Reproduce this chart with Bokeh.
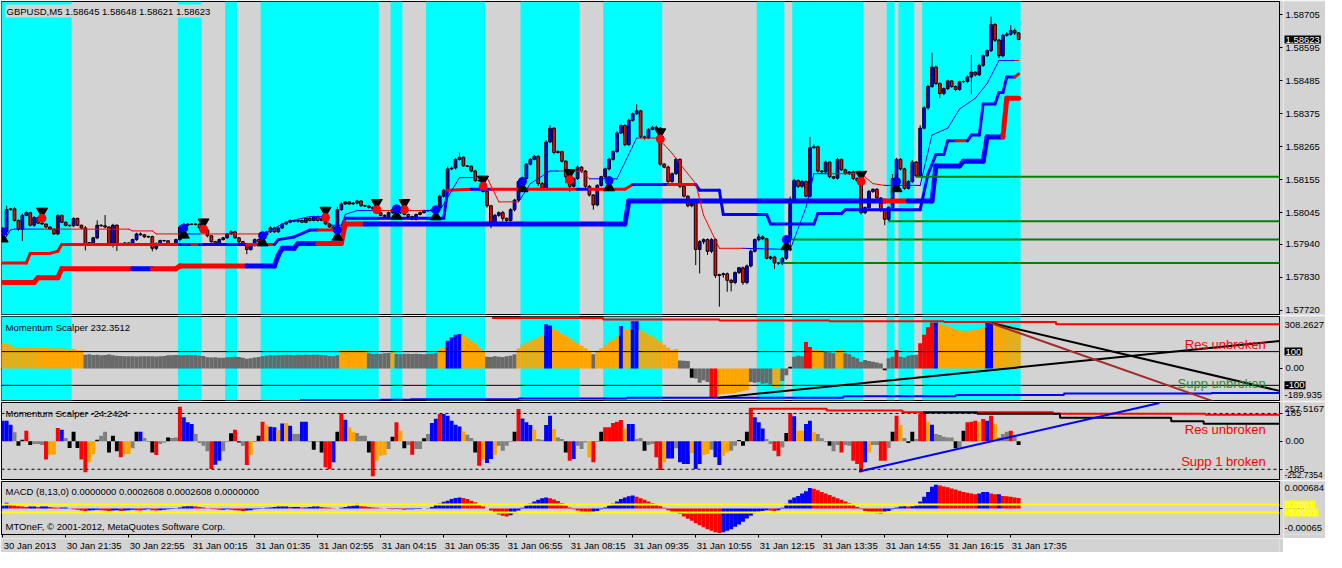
from bokeh.plotting import figure
from bokeh.layouts import column, row
from bokeh.models import Range1d, FixedTicker, BoxAnnotation, Label, CustomJSTickFormatter
from bokeh.embed import file_html
from bokeh.resources import INLINE

FONT = "Liberation Sans"
FS = "9.5px"
BG = "#d3d3d3"
CYAN = "#00ffff"
BLUE = "#0000ff"
RED = "#ff0000"

# ---------------- data ----------------
xtick_bars = [0, 16, 32, 48, 64, 80, 96, 112, 128, 144, 160, 176, 192, 208, 224, 240, 256]
xtick_labels = ["30 Jan 2013", "30 Jan 21:35", "30 Jan 22:55", "31 Jan 00:15", "31 Jan 01:35",
                "31 Jan 02:55", "31 Jan 04:15", "31 Jan 05:35", "31 Jan 06:55", "31 Jan 08:15",
                "31 Jan 09:35", "31 Jan 10:55", "31 Jan 12:15", "31 Jan 13:35", "31 Jan 14:55",
                "31 Jan 16:15", "31 Jan 17:35"]
price_ticks = [1.58705, 1.58595, 1.58485, 1.58375, 1.58265, 1.58155, 1.58045, 1.57940, 1.57830, 1.57720]

first_open = 1.57990
close = [
    1.57981, 1.58055, 1.58058, 1.58019, 1.57990, 1.58036, 1.58045, 1.58003, 1.58029, 1.58010,
    1.58007, 1.57997, 1.57990, 1.57974, 1.58036, 1.58013, 1.58003, 1.58001, 1.58026, 1.58003,
    1.57994, 1.57939, 1.57945, 1.57961, 1.58003, 1.58001, 1.57997, 1.57939, 1.58003, 1.57939,
    1.57942, 1.57944, 1.57942, 1.57955, 1.57974, 1.57971, 1.57964, 1.57965, 1.57926, 1.57942,
    1.57952, 1.57951, 1.57942, 1.57939, 1.57955, 1.57997, 1.58003, 1.58007, 1.58006, 1.58007,
    1.57994, 1.57987, 1.57968, 1.57948, 1.57942, 1.57955, 1.57961, 1.57974, 1.57981, 1.57961,
    1.57948, 1.57942, 1.57922, 1.57935, 1.57955, 1.57948, 1.57971, 1.57981, 1.57994, 1.57981,
    1.57994, 1.58007, 1.58013, 1.58019, 1.58016, 1.58019, 1.58013, 1.58026, 1.58019, 1.58032,
    1.58019, 1.58026, 1.58007, 1.57997, 1.57987, 1.58055, 1.58074, 1.58081, 1.58074, 1.58077,
    1.58084, 1.58068, 1.58067, 1.58062, 1.58058, 1.58045, 1.58036, 1.58032, 1.58045, 1.58055,
    1.58062, 1.58045, 1.58039, 1.58032, 1.58023, 1.58039, 1.58045, 1.58052, 1.58051, 1.58055,
    1.58062, 1.58100, 1.58120, 1.58191, 1.58194, 1.58223, 1.58230, 1.58201, 1.58200, 1.58184,
    1.58152, 1.58153, 1.58116, 1.58068, 1.58013, 1.58036, 1.58045, 1.58026, 1.58019, 1.58055,
    1.58087, 1.58149, 1.58159, 1.58207, 1.58223, 1.58233, 1.58142, 1.58126, 1.58281, 1.58327,
    1.58246, 1.58249, 1.58217, 1.58165, 1.58133, 1.58159, 1.58197, 1.58184, 1.58133, 1.58104,
    1.58071, 1.58136, 1.58165, 1.58191, 1.58223, 1.58249, 1.58311, 1.58336, 1.58272, 1.58353,
    1.58375, 1.58385, 1.58298, 1.58295, 1.58323, 1.58330, 1.58327, 1.58207, 1.58197, 1.58149,
    1.58175, 1.58223, 1.58133, 1.58100, 1.58068, 1.58084, 1.57922, 1.57948, 1.57955, 1.57916,
    1.57955, 1.57835, 1.57838, 1.57841, 1.57819, 1.57812, 1.57845, 1.57861, 1.57812, 1.57867,
    1.57916, 1.57955, 1.57964, 1.57958, 1.57893, 1.57897, 1.57877, 1.57876, 1.57893, 1.57958,
    1.58087, 1.58152, 1.58133, 1.58149, 1.58100, 1.58262, 1.58265, 1.58184, 1.58181, 1.58214,
    1.58165, 1.58160, 1.58223, 1.58188, 1.58175, 1.58181, 1.58159, 1.58152, 1.58045, 1.58062,
    1.58116, 1.58123, 1.58094, 1.58055, 1.58023, 1.58062, 1.58159, 1.58223, 1.58191, 1.58126,
    1.58149, 1.58214, 1.58168, 1.58327, 1.58395, 1.58466, 1.58531, 1.58476, 1.58443, 1.58459,
    1.58485, 1.58466, 1.58456, 1.58482, 1.58483, 1.58498, 1.58514, 1.58505, 1.58537, 1.58569,
    1.58586, 1.58673, 1.58621, 1.58569, 1.58637, 1.58641, 1.58653, 1.58645, 1.58623]

wick_up_pts = [
    5, 13, 3, 5, 3, 6, 4, 3, 4, 2, 3, 2, 3, 2, 4, 3, 2, 2, 3, 2,
    2, 6, 2, 3, 16, 3, 36, 3, 5, 3, 2, 2, 2, 3, 4, 5, 3, 3, 3, 4,
    3, 2, 2, 2, 3, 6, 8, 3, 3, 4, 3, 5, 3, 2, 3, 4, 3, 3, 5, 3,
    2, 3, 2, 3, 4, 3, 5, 3, 6, 4, 3, 4, 3, 3, 2, 4, 3, 3, 4, 3,
    3, 4, 5, 3, 3, 10, 6, 3, 3, 3, 4, 3, 3, 3, 4, 5, 3, 3, 4, 3,
    4, 3, 5, 3, 3, 3, 4, 3, 3, 4, 3, 5, 5, 8, 6, 5, 16, 3, 3, 3,
    4, 3, 5, 3, 3, 5, 4, 6, 3, 5, 4, 5, 6, 3, 4, 5, 4, 5, 6, 10,
    3, 4, 3, 3, 5, 4, 6, 3, 3, 4, 3, 4, 3, 4, 5, 4, 6, 3, 4, 5,
    4, 22, 3, 4, 4, 5, 5, 4, 3, 5, 4, 5, 3, 4, 3, 3, 4, 5, 4, 4,
    5, 4, 3, 4, 4, 5, 4, 3, 4, 5, 6, 4, 10, 5, 3, 4, 4, 3, 4, 6,
    12, 6, 4, 5, 4, 36, 8, 4, 3, 5, 4, 3, 5, 3, 4, 3, 5, 4, 4, 3,
    5, 3, 4, 3, 3, 4, 15, 5, 4, 4, 4, 6, 3, 10, 5, 6, 48, 5, 4, 4,
    4, 3, 4, 4, 4, 6, 58, 4, 5, 4, 4, 26, 5, 4, 5, 6, 18, 7, 3]
wick_dn_pts = [
    10, 16, 3, 4, 5, 40, 3, 4, 5, 3, 3, 4, 3, 3, 5, 3, 4, 3, 4, 3,
    3, 20, 5, 4, 5, 3, 4, 5, 10, 22, 3, 3, 3, 4, 4, 3, 3, 3, 10, 6,
    3, 3, 4, 3, 3, 6, 5, 3, 3, 4, 3, 4, 5, 3, 4, 3, 3, 3, 4, 3,
    4, 5, 16, 4, 3, 4, 4, 3, 4, 3, 3, 4, 3, 3, 3, 4, 3, 3, 4, 3,
    4, 3, 4, 3, 5, 26, 4, 3, 3, 3, 4, 3, 3, 3, 4, 4, 3, 3, 4, 3,
    3, 4, 3, 4, 3, 4, 3, 3, 3, 4, 4, 5, 5, 6, 4, 5, 4, 3, 3, 4,
    5, 4, 4, 6, 20, 8, 5, 10, 6, 5, 6, 4, 5, 4, 4, 3, 8, 6, 4, 4,
    6, 4, 5, 22, 18, 4, 5, 6, 10, 5, 16, 5, 4, 6, 5, 4, 4, 3, 5, 4,
    4, 3, 5, 6, 4, 3, 4, 5, 4, 8, 5, 4, 6, 4, 5, 5, 52, 80, 8, 12,
    6, 8, 104, 10, 38, 30, 6, 5, 8, 6, 5, 4, 6, 5, 4, 6, 20, 5, 6, 6,
    42, 5, 6, 5, 4, 5, 4, 6, 5, 4, 5, 4, 5, 4, 3, 4, 5, 4, 6, 5,
    4, 5, 6, 8, 20, 6, 5, 4, 5, 5, 4, 5, 6, 5, 4, 6, 4, 5, 16, 6,
    5, 4, 6, 5, 4, 6, 58, 5, 4, 5, 4, 5, 6, 8, 5, 4, 5, 7, 2]

cyan_start = [0, 45, 57, 66, 99, 108, 132, 153, 192, 201, 225, 228, 234]
cyan_end = [17, 50, 59, 95, 101, 122, 146, 167, 198, 218, 226, 231, 258]

# indicator lines on the price pane (vertex bar, price, colour code of the segment starting there)
tl_x = [0, 2, 3, 10, 32, 33, 38, 39, 45, 50, 65, 66, 70, 72, 75, 78, 82, 83, 86, 87,
        90, 94, 107, 111, 116, 120, 123, 126, 131, 134, 139, 141, 147, 149, 156, 161, 166, 168, 170, 173,
        176, 178, 182, 188, 200, 204, 206, 210, 218, 221, 224, 233, 236, 240, 243, 247, 250, 253, 257, 258]
tl_p = [1.57948, 1.57987, 1.57990, 1.57990, 1.57990, 1.57984, 1.57984, 1.57974, 1.57974, 1.57974,
        1.57974, 1.57971, 1.58000, 1.58013, 1.58023, 1.58032, 1.58032, 1.58003, 1.58003, 1.58039,
        1.58052, 1.58052, 1.58052, 1.58052, 1.58162, 1.58162, 1.58162, 1.58081, 1.58081, 1.58142,
        1.58184, 1.58184, 1.58184, 1.58158, 1.58158, 1.58294, 1.58294, 1.58272, 1.58243, 1.58191,
        1.58142, 1.58036, 1.57926, 1.57926, 1.57922, 1.58062, 1.58175, 1.58175, 1.58175, 1.58142,
        1.58136, 1.58136, 1.58304, 1.58327, 1.58391, 1.58427, 1.58476, 1.58553, 1.58553, 1.58553]
tl_c = "bbbrrrrrbr" "rbbbbbrbbb" "brbbbrrrbb" "brrbbrrrrr" "rrrbbbbrrr" "bbbbbbbbrr"

ml_x = [0, 6, 7, 12, 14, 15, 45, 48, 50, 62, 69, 70, 74, 78, 80, 86, 87, 112, 113, 119,
        124, 146, 149, 158, 160, 169, 176, 177, 182, 183, 194, 195, 206, 207, 213, 214, 233, 235, 237, 239,
        240, 242, 245, 246, 248, 249, 252, 253, 254, 255, 257, 258]
ml_p = [1.57877, 1.57877, 1.57909, 1.57909, 1.57916, 1.57939, 1.57939, 1.57939, 1.57939, 1.57939,
        1.57939, 1.57955, 1.57964, 1.57987, 1.57987, 1.57987, 1.58026, 1.58026, 1.58120, 1.58123,
        1.58123, 1.58123, 1.58123, 1.58123, 1.58139, 1.58139, 1.58139, 1.58120, 1.58120, 1.58039,
        1.58039, 1.58007, 1.58007, 1.58042, 1.58042, 1.58055, 1.58055, 1.58175, 1.58239, 1.58239,
        1.58285, 1.58285, 1.58285, 1.58304, 1.58304, 1.58408, 1.58408, 1.58446, 1.58446, 1.58498,
        1.58498, 1.58508]
ml_c = "rrrrrrbrbr" "bbbbrrbbrb" "rbrrbrbbbb" "bbbbbbbbbb" "brbbbbbbbb" "rr"

tk_x = [0, 8, 9, 14, 15, 33, 38, 44, 45, 62, 69, 70, 71, 74, 75, 80, 86, 87, 92, 158,
        159, 224, 230, 236, 237, 243, 244, 249, 250, 254, 255, 258]
tk_p = [1.57812, 1.57812, 1.57828, 1.57828, 1.57858, 1.57858, 1.57858, 1.57858, 1.57867, 1.57867,
        1.57867, 1.57903, 1.57926, 1.57926, 1.57942, 1.57942, 1.57942, 1.58007, 1.58007, 1.58007,
        1.58084, 1.58084, 1.58084, 1.58084, 1.58201, 1.58201, 1.58217, 1.58217, 1.58298, 1.58298,
        1.58427, 1.58427]
tk_c = "rrrrrbrrrb" "bbbbbrrrbb" "brbbbbbbbr" "rr"

sr_p = [1.58165, 1.58016, 1.57955, 1.57877]
sr_from = [232, 225, 200, 198]

sell_x = [10, 51, 82, 95, 102, 122, 144, 167, 218]
sell_p = [1.58026, 1.57990, 1.58029, 1.58055, 1.58055, 1.58133, 1.58155, 1.58291, 1.58149]
buy_x = [0, 46, 66, 85, 100, 110, 132, 154, 199, 227]
buy_p = [1.57981, 1.57994, 1.57968, 1.57987, 1.58058, 1.58055, 1.58149, 1.58152, 1.57955, 1.58149]

# Momentum Scalper (upper)
ms1_vals = [
    146, 147, 140, 128, 127, 126, 125, 126, 124, 123, 122, 121, 120, 119, 118, 118, 117, 116, 115, 110,
    106, 82, 85, 80, 82, 78, 80, 83, 78, 76, 74, 73, 72, 72, 71, 72, 72, 73, 72, 71,
    72, 74, 78, 79, 80, 78, 79, 80, 78, 78, 76, 74, 66, 65, 67, 64, 63, 66, 68, 70,
    68, 64, 58, 60, 65, 68, 72, 76, 78, 77, 79, 80, 82, 80, 79, 81, 80, 82, 80, 81,
    82, 80, 78, 74, 72, 78, 108, 106, 107, 106, 108, 107, 105, 90, 86, 88, 87, 90, 92, 104,
    86, 85, 88, 87, 86, 88, 86, 85, 87, 88, 90, 118, 125, 165, 185, 200, 205, 195, 180, 165,
    145, 125, 105, 70, 68, 72, 70, 68, 72, 75, 85, 120, 140, 155, 165, 175, 185, 192, 262, 255,
    236, 225, 210, 195, 180, 165, 150, 135, 120, 105, 85, 105, 120, 140, 160, 175, 190, 252, 236, 230,
    280, 280, 226, 215, 200, 190, 175, 160, 140, 125, 110, 115, 48, 46, 45, -55, -60, -85, -70, -80,
    -172, -172, -155, -153, -150, -148, -145, -140, -135, -130, -80, -85, -80, -90, -88, -95, -115, -118, -75, -40,
    10, 70, 75, 72, 157, 128, 115, 110, 105, 100, 95, 90, 110, 108, 90, 85, 70, 60, 40, 50,
    45, 40, 35, 30, -10, 60, 70, 110, 70, 65, 75, 80, 82, 150, 200, 245, 272, 272, 265, 258,
    250, 240, 232, 226, 224, 224, 226, 230, 236, 240, 270, 272, 255, 250, 248, 245, 242, 240, 236]
ms1_color_runs = [("o", 21), ("g", 65), ("o", 7), ("g", 6), ("o", 1), ("g", 11), ("o", 2), ("b", 4),
                  ("o", 6), ("g", 8), ("o", 7), ("b", 2), ("o", 10), ("g", 1), ("o", 6), ("b", 1),
                  ("o", 2), ("b", 2), ("o", 10), ("g", 3), ("k", 1), ("g", 4), ("r", 2), ("o", 8),
                  ("g", 6), ("o", 2), ("g", 2), ("k", 1), ("g", 3), ("r", 2), ("o", 3), ("g", 3),
                  ("o", 2), ("g", 10), ("k", 1), ("g", 2), ("r", 1), ("g", 5), ("r", 4), ("b", 1),
                  ("o", 12), ("b", 2), ("o", 7)]
ms1_levels = [100, -100]
ms1_res_x = [124.25, 152.5, 152.5, 182, 182, 210, 210, 239, 239, 267.5, 267.5, 324.25]
ms1_res_v = [300, 300, 290, 290, 285, 285, 280, 280, 275, 275, 263, 263]
ms1_sup_x = [75.5, 96, 96, 103.5, 103.5, 131, 131, 158.5, 158.5, 213.5, 213.5, 242, 242, 269.5,
             269.5, 307, 307, 324.25]
ms1_sup_v = [-189, -189, -186, -186, -183, -183, -178, -178, -173, -173, -165, -165, -157, -157,
             -149, -149, -145, -145]
ms1_trend_up_x = [181.75, 324.25]
ms1_trend_up_v = [-173, 163]
ms1_trend_dn_x = [250.5, 324.25]
ms1_trend_dn_v = [273, -133]
ms1_trend_br_x = [250.5, 307.5]
ms1_trend_br_v = [273, -195]

# Momentum Scalper (lower)
ms2_vals = [
    137, 137, 110, 60, -29, 11, 71, -24, -18, -18, -24, -121, -88, -88, 88, 77, 22, -44, 64, -44,
    -121, -205, -139, -84, 11, 38, 64, -73, 38, -66, -106, -84, -84, -46, 64, 64, 22, -5, -73, -90,
    -18, -7, 26, 22, 26, 230, 159, 126, 115, 49, -11, -29, -66, -183, -155, -128, -66, -5, 53, 77,
    -7, -29, -157, -90, -5, 38, 130, 110, 97, 93, 75, 119, 121, 104, 49, 49, 130, 130, -5, -55,
    -5, -73, -172, -183, -139, 64, 188, 144, 93, 64, 55, 38, 38, -73, -232, -128, -95, -90, -51, 31,
    126, 71, -46, -24, -88, -51, -51, 20, 49, 121, 150, 181, 181, 170, 137, 110, 99, 66, 44, 22,
    -73, -161, -121, -144, -117, -90, -29, -62, -29, -5, 64, 214, 152, 126, 108, 77, 15, 11, 108, 170,
    82, 26, 15, -73, -128, -117, -29, -51, -7, -106, -139, -5, 64, 93, 93, 121, 130, 141, 86, 115,
    115, 15, 22, -62, -24, -18, -106, -190, -139, -113, -113, -46, -139, -150, -150, -77, -183, -150, -90, -84,
    -55, -106, -157, -95, -73, -62, -29, 9, -29, 64, 219, 159, 126, 86, 15, -18, -62, -99, -40, 55,
    188, 166, 71, 71, 115, 137, 60, 49, 20, -5, -29, -66, -24, -73, -24, -29, -128, -150, -205, -139,
    -73, -24, -24, -128, -128, -44, 64, 170, 108, 22, -11, 64, 15, 181, 192, 130, 110, 49, 42, 31,
    26, 26, -46, -40, 71, 126, 130, 137, 130, 148, 137, 170, 115, 26, 49, 64, 71, 38, -24]
ms2_colors = ("bbbgkkrkgg" "groorbgkkk" "rrookggkkk" "roogkbggkr" "ggkggrbbbg" "gggrbbggkr"
              "kgrogkrobb" "obobggbbgk" "gkrrbkrboo" "gggkrooogk" "rokgrggkgb" "brbbbbbogg"
              "krobbogggg" "krbbboggbb" "oggkrbgggo" "rgkrrrrrob" "bggkggrrob" "bgbbbobboo"
              "gbbooggkkk" "rbbbggrrgk" "rboobboggg" "kggrggrrrb" "oggrrgkrog" "kkgrrobggg"
              "ggkgkrrror" "brogggrgk")
ms2_levels = [185, -185]
ms2_res_x = [189.75, 189.75, 209.25, 209.25, 228.5, 228.5, 266.75, 266.75, 305.5, 305.5, 324.25]
ms2_res_v = [185, 216, 216, 204, 204, 193, 193, 183, 183, 176, 176]
ms2_blk_x = [233.75, 247.5, 247.5, 268.5, 268.5, 296.75, 296.75, 305, 305, 324.25]
ms2_blk_v = [192, 192, 183, 183, 156, 156, 134, 134, 117, 117]
ms2_trend_x = [217.5, 293.75]
ms2_trend_v = [-200, 254]

# MACD (8,13,0) main values, in units of 1e-5
macd_x1e5 = [
    8, 15, 10, 8, 6, 5, 4, 5, 5, 4, 5, 5, 4, 3, 2, 3, 3, 1, -2, -3,
    -5, -6, -5, -4, -3, -4, -5, -6, -5, -4, -6, -5, -4, -3, -4, -5, -3, -2, -4, -5,
    -4, -3, -2, -1, 1, 3, 5, 6, 6, 5, 4, 3, 1, -1, -2, -3, -3, -2, -3, -4,
    -5, -6, -5, -4, -2, -1, 1, 2, 3, 4, 5, 5, 5, 4, 4, 4, 3, 3, 4, 5,
    5, 4, 3, 2, 1, 0, 2, 4, 6, 7, 12, 6, 5, 4, 3, 2, 1, 0, -1, -2,
    -1, -2, -3, -2, -2, -1, -1, 0, 1, 4, 9, 13, 17, 20, 24, 27, 28, 27, 24, 20,
    16, 10, 5, 0, -5, -10, -15, -18, -20, -17, -12, -5, 2, 8, 13, 18, 22, 26, 28, 26,
    23, 19, 14, 8, 3, -2, -5, -8, -10, -12, -10, -6, -2, 3, 8, 13, 18, 24, 28, 31,
    33, 30, 26, 22, 18, 14, 10, 6, 2, -4, -8, -10, -14, -20, -26, -31, -37, -42, -47, -52,
    -56, -60, -62, -60, -56, -52, -46, -40, -33, -25, -18, -12, -8, -6, -4, -5, -6, -4, 2, 12,
    22, 28, 32, 38, 44, 52, 50, 46, 42, 38, 34, 30, 26, 22, 18, 14, 10, 4, -2, -6,
    -8, -10, -12, -14, -10, -6, -2, 3, 5, 6, 5, 6, 8, 18, 30, 42, 55, 60, 58, 56,
    54, 51, 48, 45, 42, 40, 38, 36, 38, 42, 42, 38, 36, 36, 32, 31, 30, 28, 27]
macd_levels = [0.0001, -0.0001]

# ---------------- derived ----------------
N = len(close)
assert len(wick_up_pts) == N and len(wick_dn_pts) == N
assert len(ms1_vals) == N and len(ms2_vals) == N and len(ms2_colors) == N and len(macd_x1e5) == N
assert len(tl_x) == len(tl_p) == len(tl_c)
assert len(ml_x) == len(ml_p) == len(ml_c)
assert len(tk_x) == len(tk_p) == len(tk_c)
bars = list(range(N))
opens = [first_open] + close[:-1]
body_top = [max(o, c) for o, c in zip(opens, close)]
body_bot = [min(o, c) for o, c in zip(opens, close)]
highs = [t + u * 1e-5 for t, u in zip(body_top, wick_up_pts)]
lows = [b - d * 1e-5 for b, d in zip(body_bot, wick_dn_pts)]
body_col = [BLUE if c >= o else RED for o, c in zip(opens, close)]

ms1_codes = "".join(c * n for c, n in ms1_color_runs)
assert len(ms1_codes) == N
CM1 = {"o": "#ffa500", "g": "#696969", "b": BLUE, "r": RED, "k": "#000000"}
CM2 = {"o": "#ffa500", "g": "#808080", "b": BLUE, "r": RED, "k": "#000000"}
LC = {"r": RED, "b": BLUE}

macd = [v * 1e-5 for v in macd_x1e5]
macd_col = [BLUE if (i == 0 or macd[i] >= macd[i - 1]) else RED for i in range(N)]

# ---------------- layout ----------------
X_LO, X_HI = -0.3, 324.25
XR = Range1d(X_LO, X_HI)
WP = 1283      # pane figure width (frame ~1278)
WS = 42        # right-hand scale strip width
EMPTY = CustomJSTickFormatter(code="return '';")


def make_fig(h, yr, top=1, bottom=1, xaxis=False):
    p = figure(width=WP, height=h, x_range=XR, y_range=yr, output_backend="svg",
               toolbar_location=None, x_axis_location="below" if xaxis else None,
               y_axis_location="right", min_border_left=1, min_border_right=4,
               min_border_top=top, min_border_bottom=bottom,
               background_fill_color=BG, border_fill_color=BG,
               outline_line_color="black", outline_line_width=1)
    p.grid.visible = False
    ya = p.yaxis[0]
    ya.axis_line_color = "black"
    ya.major_tick_out = 3
    ya.major_tick_in = 0
    ya.major_tick_line_color = "black"
    ya.minor_tick_line_color = None
    ya.formatter = EMPTY
    ya.major_label_text_font_size = "1px"
    ya.major_label_standoff = 0
    return p


def make_side(h, yr, top=1, bottom=1):
    s = figure(width=WS, height=h, x_range=Range1d(0, WS), y_range=yr, output_backend="svg",
               toolbar_location=None, x_axis_location=None, y_axis_location=None,
               min_border_left=0, min_border_right=0, min_border_top=top, min_border_bottom=bottom,
               background_fill_color=BG, border_fill_color=BG, outline_line_color=None)
    s.grid.visible = False
    return s


def bands(p):
    for s, e in zip(cyan_start, cyan_end):
        p.add_layout(BoxAnnotation(left=s - 0.5, right=e + 0.5, fill_color=CYAN, fill_alpha=1.0,
                                   line_color=None, level="underlay"))


def colored_poly(p, xs, ys, codes, width):
    p.segment(x0=xs[:-1], y0=ys[:-1], x1=xs[1:], y1=ys[1:],
              line_color=[LC[c] for c in codes[:-1]], line_width=width, line_cap="round")


def txt(p, text, x, y, xu="screen", yu="screen", size=FS, color="black", align="left",
        baseline="top", bg=None, font=FONT, xo=0, yo=0):
    lab = Label(x=x, y=y, x_units=xu, y_units=yu, text=text, text_font=font, text_font_size=size,
                text_color=color, text_align=align, text_baseline=baseline, x_offset=xo, y_offset=yo)
    if bg is not None:
        lab.background_fill_color = bg
        lab.background_fill_alpha = 1.0
        try:
            lab.padding = 1
        except AttributeError:
            pass
    p.add_layout(lab)


def hlines(p, levels, **kw):
    p.segment(x0=[X_LO] * len(levels), y0=levels, x1=[X_HI] * len(levels), y1=levels, **kw)


# ---- price pane ----
H1F = 313
yr1 = Range1d(1.57705, 1.58750)
p1 = make_fig(315, yr1)
bands(p1)
p1.yaxis.ticker = FixedTicker(ticks=price_ticks)
p1.segment(x0=bars, y0=lows, x1=bars, y1=highs, line_color="black", line_width=1)
p1.vbar(x=bars, width=0.7, top=body_top, bottom=body_bot, fill_color=body_col,
        line_color="black", line_width=1)
colored_poly(p1, tk_x, tk_p, tk_c, 5)
colored_poly(p1, ml_x, ml_p, ml_c, 3)
colored_poly(p1, tl_x, tl_p, tl_c, 1)
p1.segment(x0=sr_from, y0=sr_p, x1=[X_HI] * len(sr_p), y1=sr_p, line_color="#008000", line_width=2)
px_price = (1.58750 - 1.57705) / H1F          # price per screen pixel, for arrow placement
p1.scatter(x=sell_x, y=[v + 7 * px_price for v in sell_p], marker="inverted_triangle", size=11,
           fill_color="black", line_color="black")
p1.scatter(x=buy_x, y=[v - 7 * px_price for v in buy_p], marker="triangle", size=11,
           fill_color="black", line_color="black")
p1.scatter(x=sell_x, y=sell_p, size=8, fill_color=RED, line_color=RED)
p1.scatter(x=buy_x, y=buy_p, size=8, fill_color=BLUE, line_color=BLUE)
txt(p1, "GBPUSD,M5  1.58645 1.58648 1.58621 1.58623", 4, H1F - 3, bg=BG)

s1 = make_side(315, yr1)
for t in price_ticks:
    txt(s1, f"{t:.5f}", 2, t, yu="data", baseline="middle")
txt(s1, f"{close[-1]:.5f}", 1, close[-1], yu="data", baseline="middle", color="white", bg="black")

# ---- Momentum Scalper 1 ----
H2F = 84
yr2 = Range1d(-189.935, 308.2627)
p2 = make_fig(86, yr2)
bands(p2)
p2.yaxis.ticker = FixedTicker(ticks=[0])
p2.vbar(x=bars, width=1.0, top=ms1_vals, bottom=0, fill_color=[CM1[c] for c in ms1_codes],
        line_color=None)
hlines(p2, ms1_levels, line_color="black", line_width=1)
p2.line(ms1_res_x, ms1_res_v, line_color=RED, line_width=2)
p2.line(ms1_sup_x, ms1_sup_v, line_color=BLUE, line_width=2)
p2.line(ms1_trend_up_x, ms1_trend_up_v, line_color="black", line_width=2)
p2.line(ms1_trend_dn_x, ms1_trend_dn_v, line_color="black", line_width=2)
p2.line(ms1_trend_br_x, ms1_trend_br_v, line_color="#a52a2a", line_width=2)
txt(p2, "Momentum Scalper 232.3512", 4, H2F - 5)
txt(p2, "Res unbroken", 320.75, 140, xu="data", yu="data", size="13px", color=RED,
    align="right", baseline="alphabetic")
txt(p2, "Supp unbroken", 320.75, -91.5, xu="data", yu="data", size="13px", color="#2e8b2e",
    align="right", baseline="alphabetic")

s2 = make_side(86, yr2)
txt(s2, "308.2627", 1, H2F - 8, baseline="middle")
txt(s2, "0.00", 2, 0, yu="data", baseline="middle")
txt(s2, "-189.935", 1, 6, baseline="middle")
for lv in ms1_levels:
    txt(s2, f"{lv}", 1, lv, yu="data", baseline="middle", color="white", bg="black")

# ---- Momentum Scalper 2 ----
H3F = 77
yr3 = Range1d(-252.7354, 257.5167)
p3 = make_fig(79, yr3)
p3.yaxis.ticker = FixedTicker(ticks=[-185, 0, 185])
p3.vbar(x=bars, width=1.0, top=ms2_vals, bottom=0, fill_color=[CM2[c] for c in ms2_colors],
        line_color=None)
hlines(p3, ms2_levels, line_color="black", line_width=1, line_dash="3 3")
p3.line(ms2_res_x, ms2_res_v, line_color=RED, line_width=2)
p3.line(ms2_blk_x, ms2_blk_v, line_color="black", line_width=2)
p3.line(ms2_trend_x, ms2_trend_v, line_color=BLUE, line_width=2)
txt(p3, "Momentum Scalper -24.2424", 4, H3F - 5)
txt(p3, "Res unbroken", 320.75, 79, xu="data", yu="data", size="13px", color=RED,
    align="right", baseline="alphabetic")
txt(p3, "Supp 1 broken", 320.75, -133, xu="data", yu="data", size="13px", color=RED,
    align="right", baseline="alphabetic")

s3 = make_side(79, yr3)
txt(s3, "257.5167", 1, H3F - 6, baseline="middle")
txt(s3, "185", 2, 185, yu="data", baseline="middle")
txt(s3, "0.00", 2, 0, yu="data", baseline="middle")
txt(s3, "-185", 2, -185, yu="data", baseline="middle")
txt(s3, "-252.7354", 1, 5, baseline="middle", size="8.5px")

# ---- MACD ----
H4F = 53
yr4 = Range1d(-0.000655, 0.000684)
p4 = make_fig(58, yr4, bottom=4, xaxis=True)
p4.yaxis.ticker = FixedTicker(ticks=[0])
xa = p4.xaxis[0]
xa.ticker = FixedTicker(ticks=xtick_bars)
xa.axis_line_color = "black"
xa.major_tick_out = 3
xa.major_tick_in = 0
xa.minor_tick_line_color = None
xa.formatter = EMPTY
xa.major_label_text_font_size = "1px"
xa.major_label_standoff = 0
p4.vbar(x=bars, width=1.0, top=macd, bottom=0, fill_color=macd_col, line_color=None)
hlines(p4, macd_levels, line_color="#ffff00", line_width=2)
txt(p4, "MACD  (8,13,0) 0.0000000 0.0002608 0.0002608 0.0000000", 4, H4F - 4)
txt(p4, "MTOneF, \u00a9 2001-2012, MetaQuotes Software Corp.", 4, 3, baseline="bottom")

s4 = make_side(58, yr4, bottom=4)
txt(s4, "0.000684", 1, H4F - 6, baseline="middle")
txt(s4, "0.00", 2, 0, yu="data", baseline="middle")
txt(s4, "-0.00065", 1, 7, baseline="middle")
for lv in macd_levels:
    txt(s4, f"{lv:.4f}", 1, lv, yu="data", baseline="middle", color="#f7f7b0", bg="#ffff00")

# ---- time scale strip ----
strip = figure(width=WP, height=14, x_range=XR, y_range=Range1d(0, 1), output_backend="svg",
               toolbar_location=None, x_axis_location=None, y_axis_location=None,
               min_border_left=1, min_border_right=4, min_border_top=0, min_border_bottom=0,
               background_fill_color=BG, border_fill_color=BG, outline_line_color=None)
strip.grid.visible = False
for b, t in zip(xtick_bars, xtick_labels):
    txt(strip, t, b, 13, xu="data", yu="screen", xo=1)

layout = column(row(p1, s1, spacing=0), row(p2, s2, spacing=0), row(p3, s3, spacing=0),
                row(p4, s4, spacing=0), strip, spacing=0)
open("out.html", "w").write(file_html(layout, INLINE))
